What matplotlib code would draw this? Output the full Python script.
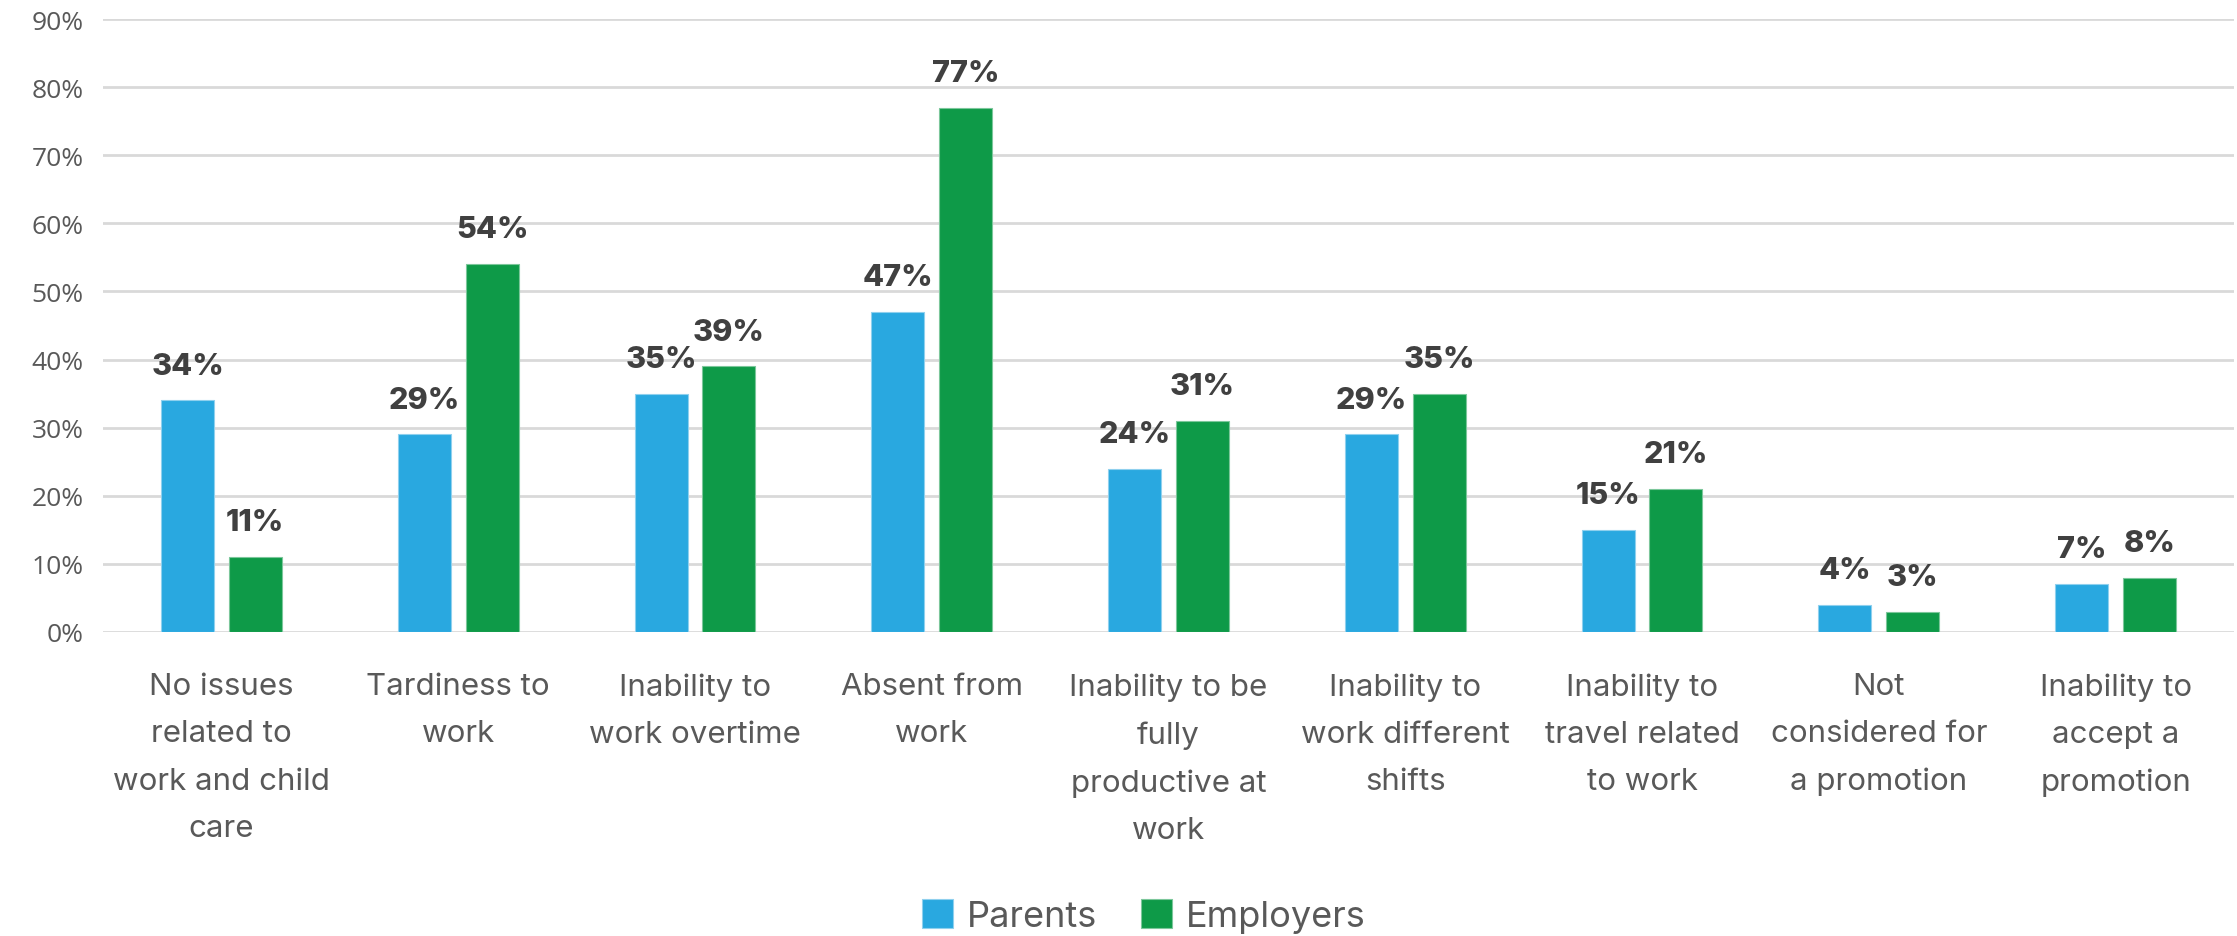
import numpy as np
import matplotlib.pyplot as plt

categories = ['No issues\nrelated to\nwork and child\ncare', 'Tardiness to\nwork',
              'Inability to\nwork overtime', 'Absent from\nwork',
              'Inability to be\nfully\nproductive at\nwork', 'Inability to\nwork different\nshifts',
              'Inability to\ntravel related\nto work', 'Not\nconsidered for\na promotion',
              'Inability to\naccept a\npromotion']
parents = [34, 29, 35, 47, 24, 29, 15, 4, 7]
employers = [11, 54, 39, 77, 31, 35, 21, 3, 8]

blue = '#29a8e0'
green = '#0e9a48'
label_font = 'Inter'

fig = plt.figure(figsize=(22.37, 9.37), dpi=100)
ax = fig.add_axes([103/2237, 304/937, 2131/2237, 613/937])

x = np.arange(len(categories))
w = 0.224
off = 0.143
b1 = ax.bar(x - off, parents, w, color=blue, edgecolor='#8fd0ee', linewidth=0.8, label='Parents', zorder=3)
b2 = ax.bar(x + off, employers, w, color=green, edgecolor='#7cc79b', linewidth=0.8, label='Employers', zorder=3)

for bars, vals in [(b1, parents), (b2, employers)]:
    for b, v in zip(bars, vals):
        ax.annotate(f'{v}%', (b.get_x() + b.get_width() / 2, v), xytext=(0, 15),
                    textcoords='offset points', ha='center', va='bottom',
                    fontsize=22, fontweight='heavy', color='#404040', family=label_font)

ax.set_xlim(-0.5, len(categories) - 0.5)
ax.set_ylim(0, 90)
ax.set_yticks(range(0, 91, 10))
ax.set_yticklabels([f'{t}%' for t in range(0, 91, 10)], fontsize=19, color='#595959', family='Open Sans')
ax.set_xticks(x)
ax.set_xticklabels(categories, fontsize=22.5, color='#595959', family=label_font, linespacing=1.87, va='top')
ax.tick_params(axis='both', length=0)
ax.tick_params(axis='x', pad=29)
ax.tick_params(axis='y', pad=14)
ax.yaxis.grid(True, color='#d9d9d9', linewidth=2, zorder=0)
for s in ax.spines.values():
    s.set_visible(False)

fig.legend(loc='center', bbox_to_anchor=(1144/2237, 1 - 917/937), ncol=2, frameon=False,
           prop={'family': label_font, 'size': 26}, labelcolor='#595959',
           handlelength=0.85, handleheight=0.85, handletextpad=0.4, columnspacing=1.2)

fig.savefig('out.png', dpi=100)
